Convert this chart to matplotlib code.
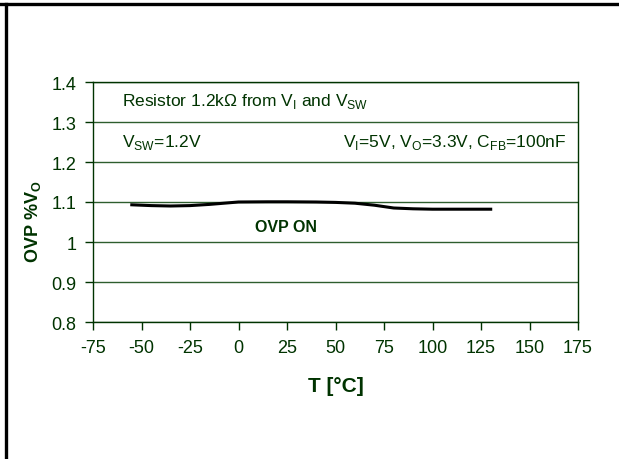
import matplotlib
matplotlib.use('Agg')
import matplotlib.pyplot as plt
from matplotlib.lines import Line2D

plt.rcParams['font.family'] = ['Liberation Sans', 'DejaVu Sans']
plt.rcParams['mathtext.fontset'] = 'custom'
plt.rcParams['mathtext.rm'] = 'Liberation Sans'
plt.rcParams['mathtext.bf'] = 'Liberation Sans:bold'
plt.rcParams['axes.unicode_minus'] = False

# data
temp = [-55, -45, -35, -25, -15, 0, 15, 25, 40, 50, 60, 70, 80, 90, 100, 115, 130]
ovp = [1.093, 1.091, 1.090, 1.091, 1.094, 1.1, 1.1005, 1.1005, 1.1, 1.099, 1.097, 1.092, 1.085, 1.083, 1.082, 1.082, 1.082]

xticks = [-75, -50, -25, 0, 25, 50, 75, 100, 125, 150, 175]
yticks = [0.8, 0.9, 1.0, 1.1, 1.2, 1.3, 1.4]
ytick_labels = ['0.8', '0.9', '1', '1.1', '1.2', '1.3', '1.4']

green = '#003300'
grid_green = '#2e5e2e'

fig = plt.figure(figsize=(6.19, 4.60), dpi=100)
ax = fig.add_axes([93 / 619, 1 - 323 / 460, 485 / 619, 240 / 460])

ax.plot(temp, ovp, color='black', lw=2.2)

ax.set_xlim(-75, 175)
ax.set_ylim(0.8, 1.4)
ax.set_xticks(xticks)
ax.set_yticks(yticks)
ax.set_yticklabels(ytick_labels)
ax.tick_params(colors=green, labelsize=13, direction='out', length=6, width=1, pad=6)
ax.yaxis.grid(True, color=grid_green, lw=1)
ax.set_axisbelow(True)
for s in ax.spines.values():
    s.set_color(green)
    s.set_linewidth(1)

ax.set_xlabel('T [°C]', color=green, fontsize=15, fontweight='bold', labelpad=15)
ax.set_ylabel(r'OVP %V$_\mathbf{O}$', color=green, fontsize=13, fontweight='bold')
ax.yaxis.set_label_coords(-0.103, 0.42)

ax.text(-60, 1.355, r'Resistor 1.2k$\Omega$ from V$_\mathrm{I}$ and V$_\mathrm{SW}$',
        color=green, fontsize=12.5, va='center')
ax.text(-60, 1.252, r'V$_\mathrm{SW}$=1.2V', color=green, fontsize=12.5, va='center')
ax.text(169, 1.252, r'V$_\mathrm{I}$=5V, V$_\mathrm{O}$=3.3V, C$_\mathrm{FB}$=100nF',
        color=green, fontsize=12.5, va='center', ha='right')
ax.text(24.5, 1.04, 'OVP ON', color=green, fontsize=11.5, fontweight='bold', ha='center', va='center')

# page frame lines
fig.add_artist(Line2D([0, 1], [1 - 5 / 460, 1 - 5 / 460], color='black', lw=2.4))
fig.add_artist(Line2D([6 / 619, 6 / 619], [0, 1 - 5 / 460], color='black', lw=2.4))

fig.savefig('out.png', dpi=100)
